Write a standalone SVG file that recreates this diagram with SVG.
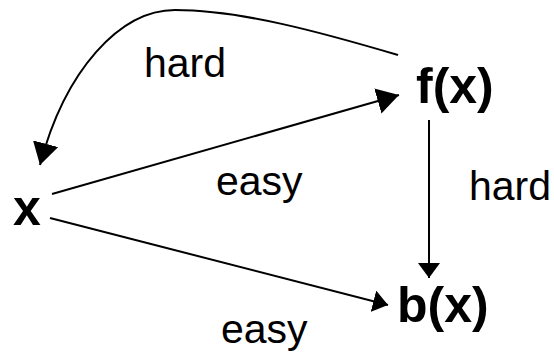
<svg xmlns="http://www.w3.org/2000/svg" width="554" height="353" viewBox="0 0 554 353">
<style>
.edge{fill:none;stroke:#000;stroke-width:2}
.lbl{font-family:"Liberation Sans",Arial,sans-serif;font-size:41px;fill:#000}
.node{font-family:"Liberation Sans",Arial,sans-serif;font-size:50px;font-weight:bold;fill:#000}
</style>
<defs>
<marker id="big" markerUnits="userSpaceOnUse" viewBox="0 0 22 26" refX="22" refY="13" markerWidth="22" markerHeight="26" orient="auto">
<path d="M0,0 L22,13 L0,26 z" fill="#000"/>
</marker>
<marker id="small" markerUnits="userSpaceOnUse" viewBox="0 0 15 22" refX="15" refY="11" markerWidth="15" markerHeight="22" orient="auto">
<path d="M0,0 L15,11 L0,22 z" fill="#000"/>
</marker>
</defs>
<rect width="554" height="353" fill="#fff"/>
<g id="connectors">
<path class="edge" d="M398,55 C320,32 240,10 175,10 C120,10 65,70 40,165" marker-end="url(#big)"/>
<path class="edge" d="M52,194 L399,95" marker-end="url(#big)"/>
<path class="edge" d="M50,218 L388,305" marker-end="url(#small)"/>
<path class="edge" d="M429,120 L429,278" stroke-width="2.5" marker-end="url(#small)"/>
</g>
<g id="labels">
<text class="lbl" x="144" y="77">hard</text>
<text class="lbl" x="216" y="195">easy</text>
<text class="lbl" x="469" y="200">hard</text>
<text class="lbl" x="221" y="343">easy</text>
</g>
<g id="node-x"><text class="node" x="13" y="225">x</text></g>
<g id="node-fx"><text class="node" x="416" y="103">f(x)</text></g>
<g id="node-bx"><text class="node" x="397" y="322">b(x)</text></g>
</svg>
